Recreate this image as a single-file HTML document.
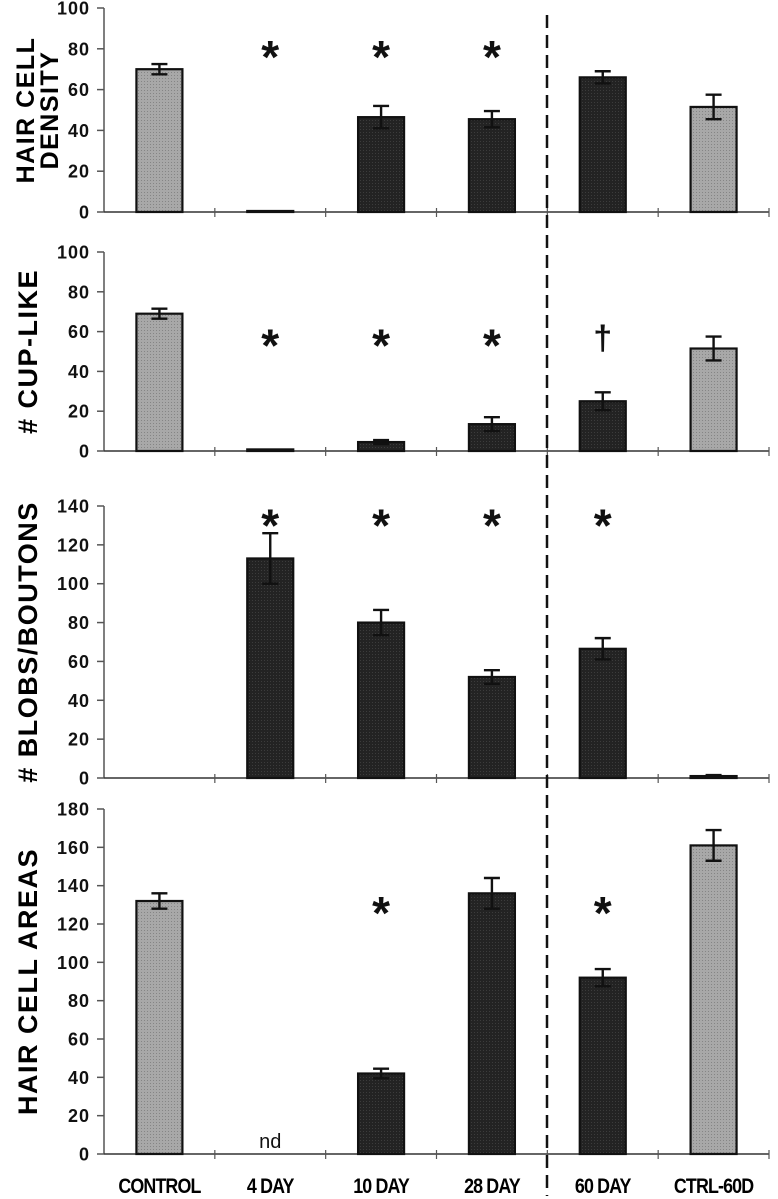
<!DOCTYPE html>
<html><head><meta charset="utf-8"><style>
html,body{margin:0;padding:0;background:#fff;}
svg{display:block;font-family:"Liberation Sans",Arial,sans-serif;}
</style></head><body>
<svg id="chart" width="778" height="1199" viewBox="0 0 778 1199" xmlns="http://www.w3.org/2000/svg">
<defs>
<pattern id="ptLight" width="3" height="3" patternUnits="userSpaceOnUse"><rect width="3" height="3" fill="#a8a8a8"/><rect width="1" height="1" fill="#858585"/></pattern>
<pattern id="ptDark" width="3" height="3" patternUnits="userSpaceOnUse"><rect width="3" height="3" fill="#232323"/><rect width="1" height="1" fill="#3c3c3c"/></pattern>
</defs>
<g id="plots"></g>
</svg>
<script>
const categories = ["CONTROL","4 DAY","10 DAY","28 DAY","60 DAY","CTRL-60D"];
const isControl = [true,false,false,false,false,true];
const densityValues = [70,0.5,46.5,45.5,66,51.5];
const densityErrors = [2.5,0,5.5,4,3,6];
const densityMarks = ["","*","*","*","",""];
const cupValues = [69,0.8,4.5,13.5,25,51.5];
const cupErrors = [2.5,0,1,3.5,4.5,6];
const cupMarks = ["","*","*","*","†",""];
const blobValues = [0,113,80,52,66.5,1];
const blobErrors = [0,13,6.5,3.5,5.5,0.5];
const blobMarks = ["","*","*","*","*",""];
const areaValues = [132,null,42,136,92,161];
const areaErrors = [4,0,2.5,8,4.5,8];
const areaMarks = ["","","*","","*",""];
const densityTicks = [0,20,40,60,80,100];
const cupTicks = [0,20,40,60,80,100];
const blobTicks = [0,20,40,60,80,100,120,140];
const areaTicks = [0,20,40,60,80,100,120,140,160,180];

const NS="http://www.w3.org/2000/svg";
const root=document.getElementById('plots');
function mk(tag,attrs,parent){const e=document.createElementNS(NS,tag);for(const k in attrs)e.setAttribute(k,attrs[k]);(parent||root).appendChild(e);return e;}
const X0=104,X1=769,catW=(X1-X0)/6,barW=46;
function xc(i){return X0+catW*(i+0.5);}

const panels=[
 {key:'density',vals:densityValues,errs:densityErrors,marks:densityMarks,ticks:densityTicks,max:100,top:8,bottom:212,markVal:80,title:["HAIR CELL","DENSITY"]},
 {key:'cup',vals:cupValues,errs:cupErrors,marks:cupMarks,ticks:cupTicks,max:100,top:252,bottom:451,markVal:57,title:["# CUP-LIKE"]},
 {key:'blobs',vals:blobValues,errs:blobErrors,marks:blobMarks,ticks:blobTicks,max:140,top:506,bottom:778,markVal:134,title:["# BLOBS/BOUTONS"]},
 {key:'areas',vals:areaValues,errs:areaErrors,marks:areaMarks,ticks:areaTicks,max:180,top:809,bottom:1154,markVal:130,title:["HAIR CELL  AREAS"]}
];

panels.forEach(function(p){
 const g=mk('g',{});
 
 
 const y=function(v){return p.bottom-(v/p.max)*(p.bottom-p.top);};
 const ya=mk('line',{x1:X0,y1:y(p.max),x2:X0,y2:p.bottom,stroke:'#555','stroke-width':1.5},g);
 
 
 p.ticks.forEach(function(t){
  mk('line',{x1:X0-7,y1:y(t),x2:X0,y2:y(t),stroke:'#555','stroke-width':1.5},g);
  const tl=mk('text',{x:X0-14,y:y(t)+6.5,'text-anchor':'end','font-size':18,'font-weight':'bold','letter-spacing':'1',fill:'#111'},g);
  tl.textContent=t;
  
  
 });
 const xa=mk('line',{x1:X0,y1:p.bottom,x2:X1,y2:p.bottom,stroke:'#333','stroke-width':1.5},g);
 
 
 for(let i=1;i<=6;i++){mk('line',{x1:X0+catW*i,y1:p.bottom-4,x2:X0+catW*i,y2:p.bottom+5,stroke:'#555','stroke-width':1.2},g);}
 p.vals.forEach(function(v,i){
  if(v===null){
   const nd=mk('text',{x:xc(i),y:p.bottom-6,'text-anchor':'middle','font-size':20,fill:'#111'},g);
   nd.textContent='nd';
   
   
  } else if(v>0){
   const b=mk('rect',{x:xc(i)-barW/2,y:y(v),width:barW,height:p.bottom-y(v),fill:isControl[i]?'url(#ptLight)':'url(#ptDark)',stroke:'#111','stroke-width':2.2},g);
   
   
   const e=p.errs[i];
   if(e>0){
    const eb=mk('path',{d:'M'+xc(i)+' '+y(v+e)+'V'+y(v-e)+'M'+(xc(i)-8)+' '+y(v+e)+'H'+(xc(i)+8)+'M'+(xc(i)-8)+' '+y(v-e)+'H'+(xc(i)+8),stroke:'#111','stroke-width':2.4,fill:'none'},g);
    
    
   }
  }
  if(p.marks[i]){
   const isStar=p.marks[i]==='*';
   const m=mk('text',{x:xc(i),y:y(p.markVal)+(isStar?24:12),'text-anchor':'middle','font-size':isStar?46:34,'font-weight':'bold',fill:'#111'},g);
   m.textContent=p.marks[i];
   
   
  }
 });
 const cy=(p.top+p.bottom)/2;
 p.title.forEach(function(line,k){
  const n=p.title.length;
  const tx=n===2?(34+k*24):37;
  const t=mk('text',{x:tx,y:cy,'text-anchor':'middle','font-size':n===2?25:27,'font-weight':'bold','letter-spacing':'1.5',fill:'#000',transform:'rotate(-90 '+tx+' '+cy+')'},g);
  t.setAttribute('xml:space','preserve');
  t.textContent=line;
  
  
 });
});
categories.forEach(function(c,i){
 const t=mk('text',{x:0,y:0,'text-anchor':'middle','font-size':21,'font-weight':'bold','letter-spacing':'-1',fill:'#000',transform:'translate('+xc(i)+',1193) scale(0.85,1)'});
 t.textContent=c;
 
 
});
const dv=mk('line',{x1:547,y1:15,x2:547,y2:1196,stroke:'#111','stroke-width':2.5,'stroke-dasharray':'13 7'});


</script>
</body></html>
